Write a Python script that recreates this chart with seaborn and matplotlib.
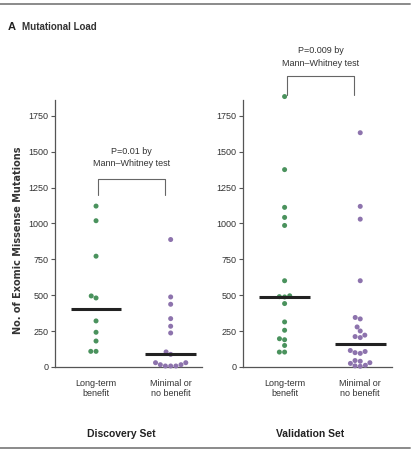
import numpy as np
import pandas as pd
import matplotlib
matplotlib.use("Agg")
import matplotlib.pyplot as plt
import seaborn as sns

# Exomic missense mutation counts per patient
discovery_long_term = [1121, 1019, 772, 495, 481, 321, 242, 181, 109, 109]
discovery_minimal = [888, 488, 437, 337, 284, 237, 105, 88, 30, 16, 7, 7, 7, 16, 30]
validation_long_term = [1884, 1375, 1112, 1042, 986, 601, 496, 490, 488, 442,
                        314, 256, 197, 190, 150, 104, 104]
validation_minimal = [1632, 1119, 1030, 601, 345, 335, 279, 251, 222, 212, 205,
                      115, 108, 100, 95, 45, 40, 30, 25, 12, 8, 5]

groups = ["Long-term\nbenefit", "Minimal or\nno benefit"]
panel_titles = ["Discovery Set", "Validation Set"]
p_texts = ["P=0.01 by\nMann\u2013Whitney test", "P=0.009 by\nMann\u2013Whitney test"]
yticks = [0, 250, 500, 750, 1000, 1250, 1500, 1750]

sets = {
    "Discovery Set": (discovery_long_term, discovery_minimal),
    "Validation Set": (validation_long_term, validation_minimal),
}

rows = []
for name, (lt, mn) in sets.items():
    rows += [(name, groups[0], v) for v in lt]
    rows += [(name, groups[1], v) for v in mn]
df = pd.DataFrame(rows, columns=["set", "group", "mutations"])

sns.set_style("white")
narrow = ["Liberation Sans Narrow", "Liberation Sans", "DejaVu Sans"]
plt.rcParams["font.family"] = narrow

palette = {groups[0]: "#4a925d", groups[1]: "#8d73ad"}
text_color = "#333333"
spine_color = "#555555"

fig = plt.figure(figsize=(4.15, 4.62), dpi=100)
ax_specs = [
    [55 / 415, 95 / 462, 147 / 415, 267 / 462],
    [243 / 415, 95 / 462, 149 / 415, 267 / 462],
]
# bracket (top, leg bottom) and annotation text heights in data units
bracket_y = [(1310, 1200), (2030, 1895)]
text_y = [1460, 2160]

for i, (spec, title) in enumerate(zip(ax_specs, panel_titles)):
    ax = fig.add_axes(spec)
    sub = df[df["set"] == title]
    sns.swarmplot(data=sub, x="group", y="mutations", hue="group",
                  order=groups, palette=palette, size=3.6, ax=ax,
                  legend=False, linewidth=0)
    for coll in ax.collections:
        coll.set_clip_on(False)
    medians = sub.groupby("group")["mutations"].median()
    for k, g in enumerate(groups):
        ax.hlines(medians[g], k - 0.34, k + 0.34, color="#222222",
                  linewidth=2.2, zorder=5)
    ax.set_xlim(-0.55, 1.42)
    ax.set_ylim(0, 1860)
    ax.set_yticks(yticks)
    ax.set_yticklabels([str(t) for t in yticks])
    ax.set_xlabel("")
    ax.set_ylabel("")
    sns.despine(ax=ax)
    for s in ("left", "bottom"):
        ax.spines[s].set_color(spine_color)
        ax.spines[s].set_linewidth(0.9)
    ax.tick_params(axis="y", left=True, length=3, width=0.8, color=spine_color,
                   labelsize=6.5, labelcolor=text_color, pad=1.5)
    ax.tick_params(axis="x", bottom=False, labelsize=6.5,
                   labelcolor=text_color, pad=5)
    # significance bracket
    top, leg = bracket_y[i]
    ax.plot([0.03, 0.03, 0.92, 0.92], [leg, top, top, leg], color="#666666",
            linewidth=0.8, clip_on=False)
    ax.text(0.48, text_y[i], p_texts[i], ha="center", va="center",
            fontsize=6.5, color=text_color, linespacing=1.5)
    ax.text(0.45, -0.25, title, transform=ax.transAxes, ha="center",
            va="center", fontsize=7.5, color="#222222", fontweight="bold")

fig.text(18 / 415, 1 - 240 / 462, "No. of Exomic Missense Mutations",
         rotation=90, ha="center", va="center", fontsize=7,
         fontweight="bold", color="#333333", family=["DejaVu Sans"])
fig.text(8 / 415, 1 - 27 / 462, "A", ha="left", va="center", fontsize=8,
         fontweight="bold", color="#222222")
fig.text(22 / 415, 1 - 27 / 462, "Mutational Load", ha="left", va="center",
         fontsize=7, fontweight="bold", color="#333333")

# horizontal rules framing the panel
fig.add_artist(plt.Line2D([0, 410 / 415], [1 - 4 / 462] * 2, color="#8a8a8a",
                          linewidth=1.4))
fig.add_artist(plt.Line2D([0, 410 / 415], [1 - 448 / 462] * 2, color="#8a8a8a",
                          linewidth=1.4))

fig.savefig("out.png", dpi=100)
